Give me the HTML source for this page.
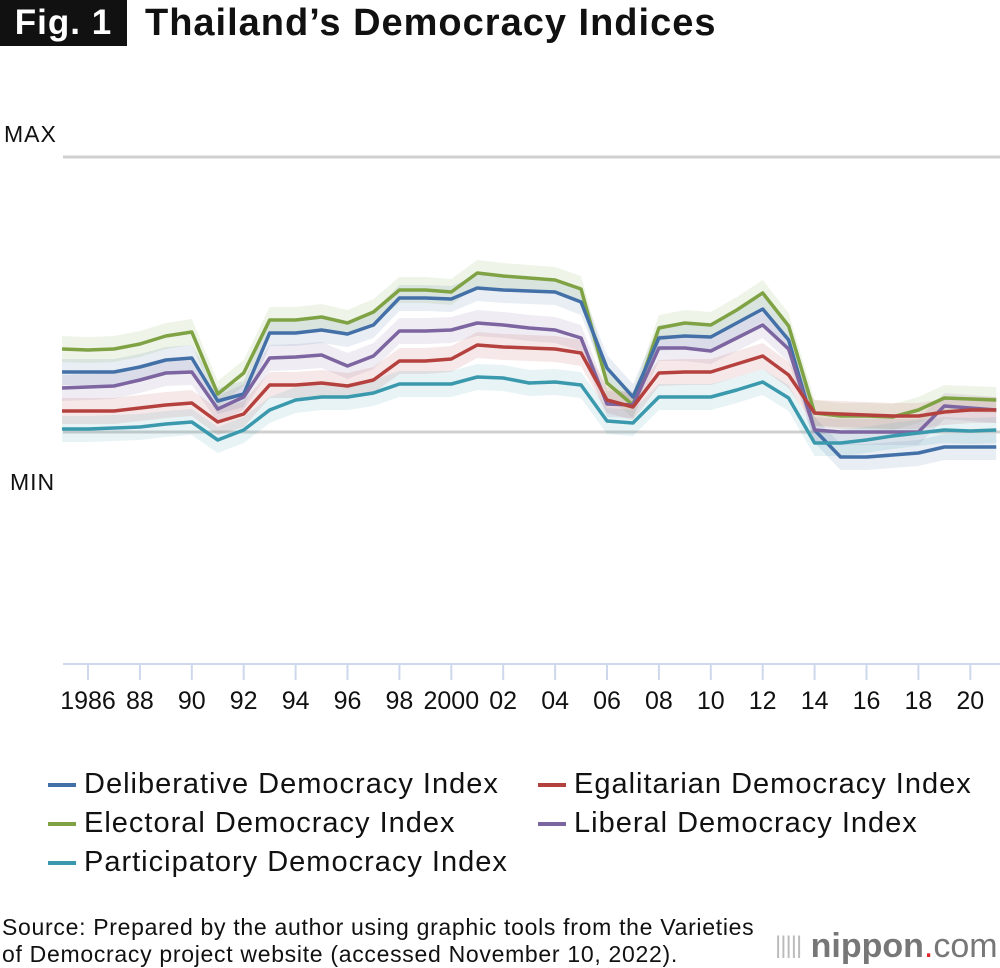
<!DOCTYPE html>
<html><head><meta charset="utf-8"><style>
body{margin:0;background:#fff;font-family:"Liberation Sans",Arial,sans-serif;}
#wrap{position:relative;width:1000px;height:968px;overflow:hidden;}
.t{position:absolute;white-space:nowrap;color:#111;}
.lg{font-size:29px;letter-spacing:1px;}
</style></head><body>
<div id="wrap">
<div class="t" style="left:0;top:0;width:127px;height:46px;background:#111;color:#fff;font-weight:bold;font-size:35px;line-height:46px;text-align:center;letter-spacing:1px">Fig. 1</div>
<div class="t" style="left:145px;top:0;font-weight:bold;font-size:38px;line-height:46px;letter-spacing:1px">Thailand’s Democracy Indices</div>
<div class="t" style="left:4px;top:121px;font-size:23px;letter-spacing:1px">MAX</div>
<div class="t" style="left:10px;top:469px;font-size:23px;letter-spacing:1px">MIN</div>
<svg id="chart" width="1000" height="740" style="position:absolute;left:0;top:0"></svg>
<div>
<div class="t lg" style="left:48px;top:768px;"><span style="display:inline-block;width:28px;height:4px;background:#4470a8;vertical-align:middle;margin-right:8px"></span>Deliberative Democracy Index</div>
<div class="t lg" style="left:538px;top:768px;"><span style="display:inline-block;width:28px;height:4px;background:#b5413e;vertical-align:middle;margin-right:8px"></span>Egalitarian Democracy Index</div>
<div class="t lg" style="left:48px;top:807px;"><span style="display:inline-block;width:28px;height:4px;background:#7fa344;vertical-align:middle;margin-right:8px"></span>Electoral Democracy Index</div>
<div class="t lg" style="left:538px;top:807px;"><span style="display:inline-block;width:28px;height:4px;background:#7c65a0;vertical-align:middle;margin-right:8px"></span>Liberal Democracy Index</div>
<div class="t lg" style="left:48px;top:846px;"><span style="display:inline-block;width:28px;height:4px;background:#3a99ad;vertical-align:middle;margin-right:8px"></span>Participatory Democracy Index</div>
</div>
<div class="t" style="left:2px;top:914px;font-size:23px;line-height:27px;letter-spacing:0.7px">Source: Prepared by the author using graphic tools from the Varieties<br>of Democracy project website (accessed November 10, 2022).</div>
<div class="t" style="left:775px;top:928px;font-size:34px;color:#777;line-height:36px;"><span style="letter-spacing:-1px;color:#bbb;font-size:24px;vertical-align:4px">|||||</span> <b>nippon</b><span style="color:#e0262a">.</span>com</div>
</div>
<script>
const years=[];for(let y=1985;y<=2021;y++)years.push(y);
const tickYears=[1986,1988,1990,1992,1994,1996,1998,2000,2002,2004,2006,2008,2010,2012,2014,2016,2018,2020];
const tickLabels=["1986","88","90","92","94","96","98","2000","02","04","06","08","10","12","14","16","18","20"];
const electoral=[83,82,83,88,96,100,38,59,112,112,115,109,120,142,142,140,159,156,154,152,143,49,27,104,109,107,122,139,106,19,16,16,15,22,34,33,32];
const deliberative=[60,60,60,65,72,74,31,38,99,99,102,98,107,134,134,133,144,142,141,140,130,64,35,94,96,95,109,123,92,2,-25,-25,-23,-21,-15,-15,-15];
const liberal=[44,45,46,52,59,60,23,35,74,75,77,66,76,101,101,102,109,107,104,102,94,28,27,84,84,81,94,107,83,2,0,0,0,0,26,24,22];
const egalitarian=[21,21,21,24,27,29,10,18,47,47,49,46,52,71,71,73,87,85,84,83,79,32,25,59,60,60,68,76,57,19,18,17,16,16,20,22,22];
const participatory=[3,3,4,5,8,10,-8,2,22,32,35,35,39,48,48,48,55,54,49,50,47,11,9,35,35,35,42,50,34,-11,-11,-8,-4,-1,2,1,2];
const NS="http://www.w3.org/2000/svg";
const svg=document.getElementById('chart');
const x=yr=>88+(yr-1986)*25.95;
const y=v=>432-v; // 0 = MIN, 275 = MAX
function mk(t,a){const e=document.createElementNS(NS,t);for(const k in a)e.setAttribute(k,a[k]);svg.appendChild(e);return e;}
let g=mk('line',{x1:63,x2:1000,y1:y(275),y2:y(275),stroke:'#d0d0d0','stroke-width':3});


g=mk('line',{x1:63,x2:1000,y1:y(0),y2:y(0),stroke:'#d0d0d0','stroke-width':3});


const ax=mk('line',{x1:63,x2:1000,y1:664,y2:664,stroke:'#cdd8ec','stroke-width':2});


tickYears.forEach((yr,i)=>{
 const tk=mk('line',{x1:x(yr),x2:x(yr),y1:664,y2:680,stroke:'#cdd8ec','stroke-width':2});
 
 
 const tx=mk('text',{x:x(yr),y:709,'text-anchor':'middle','font-size':25,'font-family':'Liberation Sans, sans-serif',fill:'#111'});
 tx.textContent=tickLabels[i];
 
 
});
const series=[["electoral",electoral,"#7fa344"],["deliberative",deliberative,"#4470a8"],["liberal",liberal,"#7c65a0"],["egalitarian",egalitarian,"#b5413e"],["participatory",participatory,"#3a99ad"]];
series.forEach(([n,d,c])=>{
 const up=d.map((v,i)=>x(years[i])+','+y(v+13)).join(' ');
 const dn=d.map((v,i)=>x(years[i])+','+y(v-13)).reverse().join(' ');
 const b=mk('polygon',{points:up+' '+dn,fill:c,'fill-opacity':0.12});
 
 
});
series.forEach(([n,d,c])=>{
 const p=mk('polyline',{points:d.map((v,i)=>x(years[i])+','+y(v)).join(' '),fill:'none',stroke:c,'stroke-width':3.5,'stroke-linejoin':'round'});
 
 
});
</script>
</body></html>
